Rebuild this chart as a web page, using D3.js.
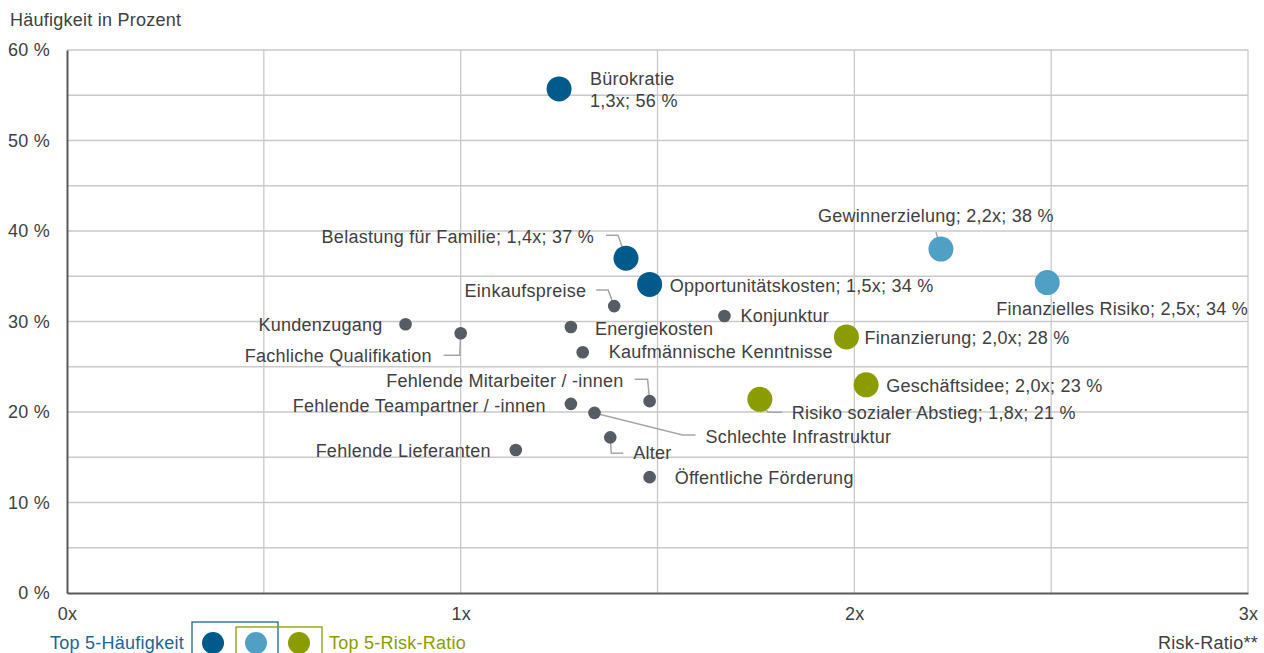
<!DOCTYPE html>
<html>
<head>
<meta charset="utf-8">
<script src="https://cdn.jsdelivr.net/npm/d3@7/dist/d3.min.js"></script>
<style>
  body { margin: 0; background: #fff; }
  text { font-family: "Liberation Sans", Arial, sans-serif; letter-spacing: 0.25px; }
</style>
</head>
<body>
<div id="chart"></div>
<script>
// data: name, risk ratio (x), frequency in percent (y), group
let names = ['Bürokratie', 'Belastung für Familie', 'Opportunitätskosten', 'Gewinnerzielung',
  'Finanzielles Risiko', 'Finanzierung', 'Geschäftsidee', 'Risiko sozialer Abstieg',
  'Kundenzugang', 'Fachliche Qualifikation', 'Einkaufspreise', 'Energiekosten',
  'Kaufmännische Kenntnisse', 'Konjunktur', 'Fehlende Mitarbeiter / -innen',
  'Fehlende Teampartner / -innen', 'Schlechte Infrastruktur', 'Alter',
  'Fehlende Lieferanten', 'Öffentliche Förderung'];
let riskRatio = [1.25, 1.42, 1.48, 2.22, 2.49, 1.98, 2.03, 1.76,
  0.86, 1.0, 1.39, 1.28, 1.31, 1.67, 1.48, 1.28, 1.34, 1.38, 1.14, 1.48];
let frequency = [55.7, 37.0, 34.1, 38.0, 34.3, 28.3, 23.0, 21.4,
  29.7, 28.7, 31.7, 29.4, 26.6, 30.6, 21.2, 20.9, 19.9, 17.2, 15.8, 12.8];
// 'freq' = Top 5 frequency, 'both' = Top 5 in both, 'risk' = Top 5 risk ratio, 'other'
let groups = ['freq', 'freq', 'freq', 'both', 'both', 'risk', 'risk', 'risk',
  'other', 'other', 'other', 'other', 'other', 'other', 'other', 'other', 'other', 'other', 'other', 'other'];
// label texts (top 8 carry the values)
let labelTexts = [
  ['Bürokratie', '1,3x; 56 %'],
  ['Belastung für Familie; 1,4x; 37 %'],
  ['Opportunitätskosten; 1,5x; 34 %'],
  ['Gewinnerzielung; 2,2x; 38 %'],
  ['Finanzielles Risiko; 2,5x; 34 %'],
  ['Finanzierung; 2,0x; 28 %'],
  ['Geschäftsidee; 2,0x; 23 %'],
  ['Risiko sozialer Abstieg; 1,8x; 21 %'],
  ['Kundenzugang'], ['Fachliche Qualifikation'], ['Einkaufspreise'], ['Energiekosten'],
  ['Kaufmännische Kenntnisse'], ['Konjunktur'], ['Fehlende Mitarbeiter / -innen'],
  ['Fehlende Teampartner / -innen'], ['Schlechte Infrastruktur'], ['Alter'],
  ['Fehlende Lieferanten'], ['Öffentliche Förderung']
];

let xTicks = [0, 1, 2, 3];
let xTickLabels = ['0x', '1x', '2x', '3x'];
let yTicks = [0, 10, 20, 30, 40, 50, 60];
let yTickLabels = ['0 %', '10 %', '20 %', '30 %', '40 %', '50 %', '60 %'];

// label layout (pixel offsets from the dot): dx, dy, anchor, leader polyline
let labelLayout = [
  { dx: 31, dy: -4, anchor: 'start' },
  { dx: -32, dy: -15, anchor: 'end', leader: [[-20, -23], [-8, -23], [0, 0]] },
  { dx: 20, dy: 8, anchor: 'start' },
  { dx: -123, dy: -27, anchor: 'start', leader: [[-5, -17], [0, 0]] },
  { dx: -51, dy: 32, anchor: 'start' },
  { dx: 18, dy: 7, anchor: 'start' },
  { dx: 20, dy: 7, anchor: 'start' },
  { dx: 32, dy: 20, anchor: 'start', leader: [[0, 0], [8, 13], [22, 13]] },
  { dx: -23, dy: 7, anchor: 'end' },
  { dx: -29, dy: 29, anchor: 'end', leader: [[0, 0], [-1, 22], [-17, 22]] },
  { dx: -28, dy: -9, anchor: 'end', leader: [[-18, -16], [-6, -16], [0, 0]] },
  { dx: 24, dy: 8, anchor: 'start' },
  { dx: 26, dy: 6, anchor: 'start' },
  { dx: 16, dy: 6, anchor: 'start' },
  { dx: -26, dy: -14, anchor: 'end', leader: [[-15, -22], [-2, -22], [0, 0]] },
  { dx: -25, dy: 8, anchor: 'end' },
  { dx: 111, dy: 30, anchor: 'start', leader: [[0, 0], [88, 22], [101, 22]] },
  { dx: 23, dy: 22, anchor: 'start', leader: [[0, 0], [1, 16], [13, 16]] },
  { dx: -25, dy: 7, anchor: 'end' },
  { dx: 25, dy: 7, anchor: 'start' }
];

let colors = { freq: '#005a8c', both: '#509fc5', risk: '#8b9c00', other: '#565c63' };
let textColor = '#404040';
let fontSize = 18;

let config = { svg: { width: 1264, height: 653 }, plot: { x: 67, y: 50, width: 1181, height: 543 } };

let svg = d3.select('#chart').append('svg')
  .attr('width', config.svg.width)
  .attr('height', config.svg.height);

let x = d3.scaleLinear().domain([0, 3]).range([config.plot.x, config.plot.x + config.plot.width]);
let y = d3.scaleLinear().domain([0, 60]).range([config.plot.y + config.plot.height, config.plot.y]);

// grid
let grid = svg.append('g');
grid.selectAll('line.v')
  .data(d3.range(0.5, 3.01, 0.5))
  .enter().append('line')
  .attr('x1', d => x(d)).attr('x2', d => x(d))
  .attr('y1', y(0)).attr('y2', y(60))
  .attr('stroke', '#c9c9c9').attr('stroke-width', 1.3);
grid.selectAll('line.h')
  .data(d3.range(5, 60.01, 5))
  .enter().append('line')
  .attr('x1', x(0)).attr('x2', x(3))
  .attr('y1', d => y(d)).attr('y2', d => y(d))
  .attr('stroke', '#c9c9c9').attr('stroke-width', 1.3);

// axes
let xAxis = svg.append('g')
  .attr('transform', 'translate(0,' + y(0) + ')')
  .call(d3.axisBottom(x).tickValues(xTicks).tickSize(0).tickPadding(17)
    .tickFormat((d, i) => xTickLabels[i]));
let yAxis = svg.append('g')
  .attr('transform', 'translate(' + x(0) + ',0)')
  .call(d3.axisLeft(y).tickValues(yTicks).tickSize(0).tickPadding(17)
    .tickFormat((d, i) => yTickLabels[i]));
[xAxis, yAxis].forEach(a => {
  a.select('.domain').attr('stroke', '#595959').attr('stroke-width', 2);
  a.selectAll('text').attr('fill', textColor).style('font-size', fontSize + 'px')
    .style('font-family', '"Liberation Sans", Arial, sans-serif');
});
xAxis.selectAll('text').attr('dy', '0.55em');

svg.append('text').attr('x', 10).attr('y', 26).attr('fill', textColor)
  .style('font-size', fontSize + 'px').text('Häufigkeit in Prozent');
svg.append('text').attr('x', 1258).attr('y', 649).attr('text-anchor', 'end').attr('fill', textColor)
  .style('font-size', fontSize + 'px').text('Risk-Ratio**');

let data = names.map((n, i) => ({
  name: n, rr: riskRatio[i], f: frequency[i], group: groups[i],
  label: labelTexts[i], layout: labelLayout[i]
}));

// leader lines
let line = d3.line();
svg.selectAll('path.leader')
  .data(data.filter(d => d.layout.leader))
  .enter().append('path')
  .attr('d', d => line(d.layout.leader.map(p => [x(d.rr) + p[0], y(d.f) + p[1]])))
  .attr('fill', 'none').attr('stroke', '#a6a6a6').attr('stroke-width', 1.5);

// dots
svg.selectAll('circle.dot')
  .data(data)
  .enter().append('circle')
  .attr('cx', d => x(d.rr))
  .attr('cy', d => y(d.f))
  .attr('r', d => d.group === 'other' ? 6.3 : 12.5)
  .attr('fill', d => colors[d.group]);

// labels
let labels = svg.selectAll('text.lbl')
  .data(data)
  .enter().append('text')
  .attr('x', d => x(d.rr) + d.layout.dx)
  .attr('y', d => y(d.f) + d.layout.dy)
  .attr('text-anchor', d => d.layout.anchor)
  .attr('fill', textColor)
  .style('font-size', fontSize + 'px');
labels.selectAll('tspan')
  .data(d => d.label.map(t => ({ t: t, x: x(d.rr) + d.layout.dx })))
  .enter().append('tspan')
  .attr('x', d => d.x)
  .attr('dy', (d, i) => i === 0 ? 0 : 22)
  .text(d => d.t);

// legend
let legend = svg.append('g');
legend.append('text').attr('x', 184).attr('y', 649).attr('text-anchor', 'end')
  .attr('fill', '#1b6595').style('font-size', fontSize + 'px').text('Top 5-Häufigkeit');
legend.append('rect').attr('x', 192).attr('y', 622).attr('width', 86).attr('height', 40)
  .attr('fill', 'none').attr('stroke', '#1b6595').attr('stroke-width', 1.3);
legend.append('rect').attr('x', 236).attr('y', 627).attr('width', 86).attr('height', 40)
  .attr('fill', 'none').attr('stroke', '#8b9c00').attr('stroke-width', 1.3);
legend.selectAll('circle')
  .data(['freq', 'both', 'risk'])
  .enter().append('circle')
  .attr('cx', (d, i) => 213 + i * 43)
  .attr('cy', 643)
  .attr('r', 11)
  .attr('fill', d => colors[d]);
legend.append('text').attr('x', 329).attr('y', 649)
  .attr('fill', '#8b9c00').style('font-size', fontSize + 'px').text('Top 5-Risk-Ratio');
</script>
</body>
</html>
